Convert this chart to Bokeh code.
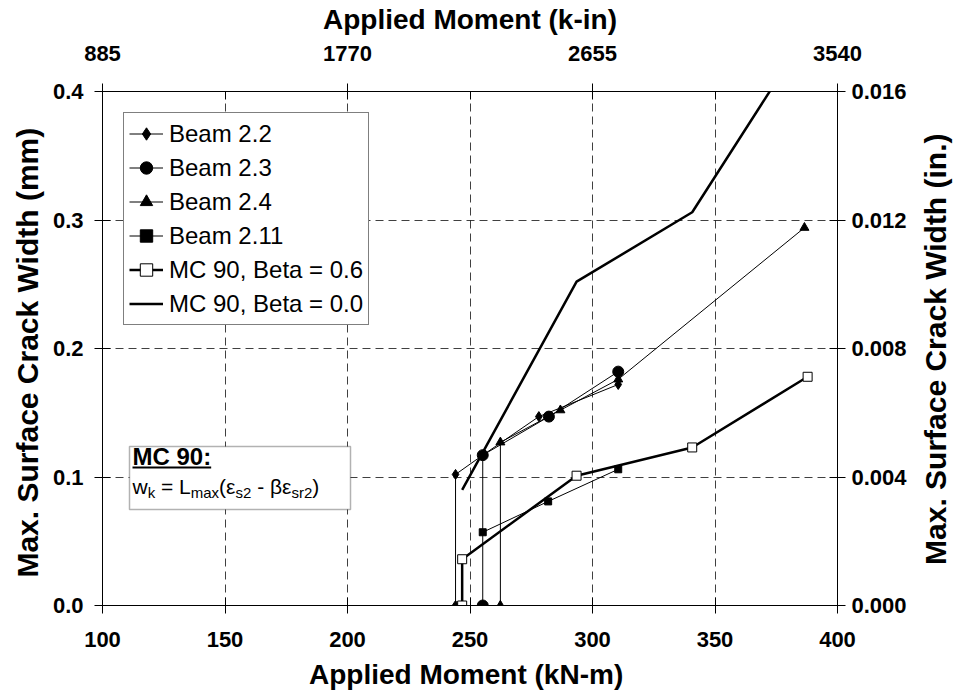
import math
from bokeh.plotting import figure
from bokeh.layouts import row
from bokeh.models import (LinearAxis, Range1d, FixedTicker, Legend, LegendItem,
                          BoxAnnotation, Label, PrintfTickFormatter)
from bokeh.embed import file_html
from bokeh.resources import INLINE

# ---------------- data (kN-m, mm) ----------------
beam22_x = [244.1, 244.1, 255.2, 278.1, 310.5]
beam22_y = [0.0, 0.102, 0.117, 0.147, 0.172]
beam23_x = [255.2, 255.2, 282.2, 310.5]
beam23_y = [0.0, 0.117, 0.147, 0.182]
beam24_x = [262.4, 262.4, 286.9, 310.5, 386.5]
beam24_y = [0.0, 0.127, 0.152, 0.176, 0.294]
beam211_x = [255.2, 281.9, 310.5]
beam211_y = [0.057, 0.081, 0.106]
mc06_x = [246.8, 246.8, 293.5, 340.7, 387.8]
mc06_y = [0.0, 0.036, 0.101, 0.123, 0.178]
mc00_x = [246.8, 293.5, 340.7, 387.8]
mc00_y = [0.090, 0.252, 0.306, 0.446]

x_ticks = [100, 150, 200, 250, 300, 350, 400]
y_ticks = [0.0, 0.1, 0.2, 0.3, 0.4]
top_ticks = [885, 1770, 2655, 3540]
top_minor = [1327.5, 2212.5, 3097.5]
right_ticks = [0.0, 0.004, 0.008, 0.012, 0.016]

FONT = "Liberation Sans"
FW, FH = 735, 514
BL, BR, BT, BB = 102, 80, 91, 89
X0, X1, Y0, Y1 = 100, 400, 0.0, 0.4

def dx(px):
    return X0 + px * (X1 - X0) / FW

def dy(px):
    return Y0 + px * (Y1 - Y0) / FH

p = figure(frame_width=FW, frame_height=FH, x_range=Range1d(X0, X1), y_range=Range1d(Y0, Y1),
           output_backend="svg", toolbar_location=None,
           min_border_left=BL, min_border_right=BR, min_border_top=BT, min_border_bottom=BB)
p.outline_line_color = "black"
p.outline_line_width = 1
p.background_fill_color = "white"
p.border_fill_color = "white"

p.extra_x_ranges = {"kin": Range1d(885, 3540)}
p.extra_y_ranges = {"inch": Range1d(0, 0.016)}

def style_axis(ax, title, tsize, standoff, lstandoff):
    ax.axis_label = title
    ax.axis_label_text_font = FONT
    ax.axis_label_text_font_style = "bold"
    ax.axis_label_text_font_size = tsize
    ax.axis_label_text_color = "black"
    ax.major_label_text_font = FONT
    ax.major_label_text_font_style = "bold"
    ax.major_label_text_font_size = "22px"
    ax.major_label_text_color = "black"
    ax.axis_line_color = "black"
    ax.major_tick_line_color = "black"
    ax.minor_tick_line_color = "black"
    ax.major_tick_in = 8
    ax.major_tick_out = 8
    ax.minor_tick_in = 0
    ax.minor_tick_out = 0
    ax.major_label_standoff = standoff
    ax.axis_label_standoff = lstandoff

xb = p.xaxis[0]
xb.ticker = FixedTicker(ticks=x_ticks)
style_axis(xb, "Applied Moment  (kN-m)", "28px", 18, 9)
yl = p.yaxis[0]
yl.ticker = FixedTicker(ticks=y_ticks)
yl.formatter = PrintfTickFormatter(format="%.1f")
style_axis(yl, "Max. Surface Crack Width  (mm)", "30px", 11, 6)

xt = LinearAxis(x_range_name="kin", ticker=FixedTicker(ticks=top_ticks, minor_ticks=top_minor),
                formatter=PrintfTickFormatter(format="%d"))
style_axis(xt, "Applied Moment (k-in)", "28px", 23, 8)
xt.minor_tick_in = 8
p.add_layout(xt, "above")

yr = LinearAxis(y_range_name="inch", ticker=FixedTicker(ticks=right_ticks),
                formatter=PrintfTickFormatter(format="%.3f"))
style_axis(yr, None, "30px", 6, 0)
p.add_layout(yr, "right")

p.xgrid.ticker = FixedTicker(ticks=x_ticks[1:-1])
p.ygrid.ticker = FixedTicker(ticks=y_ticks[1:-1])
for g in (p.xgrid[0], p.ygrid[0]):
    g.grid_line_color = "black"
    g.grid_line_alpha = 0.75
    g.grid_line_dash = "8 5"
    g.grid_line_width = 1

# ---------------- series ----------------
r22l = p.line(beam22_x, beam22_y, line_color="black", line_width=1)
r22m = p.scatter(beam22_x, beam22_y, marker="diamond", size=10, fill_color="black", line_color="black")
r23l = p.line(beam23_x, beam23_y, line_color="black", line_width=1)
r23m = p.scatter(beam23_x, beam23_y, marker="circle", size=11, fill_color="black", line_color="black")
r24l = p.line(beam24_x, beam24_y, line_color="black", line_width=1)
r24m = p.scatter(beam24_x, beam24_y, marker="triangle", size=9, fill_color="black", line_color="black")
r211l = p.line(beam211_x, beam211_y, line_color="black", line_width=1)
r211m = p.scatter(beam211_x, beam211_y, marker="square", size=7, fill_color="black", line_color="black")
r06l = p.line(mc06_x, mc06_y, line_color="black", line_width=2.5)
r06m = p.scatter(mc06_x, mc06_y, marker="square", size=9, fill_color="white", line_color="black", line_width=1)
r00l = p.line(mc00_x, mc00_y, line_color="black", line_width=2.5)

legend = Legend(items=[
    LegendItem(label="Beam 2.2", renderers=[r22l, r22m]),
    LegendItem(label="Beam 2.3", renderers=[r23l, r23m]),
    LegendItem(label="Beam 2.4", renderers=[r24l, r24m]),
    LegendItem(label="Beam 2.11", renderers=[r211l, r211m]),
    LegendItem(label="MC 90, Beta = 0.6", renderers=[r06l, r06m]),
    LegendItem(label="MC 90, Beta = 0.0", renderers=[r00l]),
], location="top_left")
legend.margin = 21
legend.padding = 5
legend.spacing = 3
legend.label_height = 31
legend.glyph_height = 31
legend.glyph_width = 34
legend.label_standoff = 6
legend.label_text_font = FONT
legend.label_text_font_size = "24px"
legend.label_text_color = "black"
legend.border_line_color = "black"
legend.border_line_width = 1
legend.background_fill_color = "white"
legend.background_fill_alpha = 1.0
p.add_layout(legend)

# ---------------- MC 90 formula box ----------------
box = BoxAnnotation(left=dx(27), right=dx(248), bottom=dy(96), top=dy(159),
                    fill_color="white", fill_alpha=1.0, line_color="black", line_width=1.5)
p.add_layout(box)

AR = {"w": 722, "k": 500, " ": 278, "=": 584, "L": 556, "m": 833, "a": 556, "x": 500,
      "(": 333, ")": 333, "s": 500, "2": 556, "-": 333, "r": 333, "\u03b5": 446, "\u03b2": 576}
ARB = {"M": 833, "C": 722, " ": 278, "9": 556, "0": 556, ":": 333}

def width(txt, size, table):
    return sum(table.get(c, 556) for c in txt) * size / 1000.0

TSIZE, MAIN, SUB = 24, 21, 15
title_txt = "MC 90:"
p.add_layout(Label(x=X0, y=Y0, x_offset=30, y_offset=149, text=title_txt, text_font=FONT,
                   text_font_style="bold", text_font_size=f"{TSIZE}px", text_baseline="middle",
                   text_color="black"))
tw = width(title_txt, TSIZE, ARB)
p.add_layout(BoxAnnotation(left=dx(30), right=dx(30 + tw), bottom=dy(137), top=dy(139),
                           fill_color="black", fill_alpha=1.0, line_alpha=0))

pieces = [("w", False), ("k", True), (" = L", False), ("max", True), ("(\u03b5", False),
          ("s2", True), (" - \u03b2\u03b5", False), ("sr2", True), (")", False)]
xo = 30
for txt, sub in pieces:
    size = SUB if sub else MAIN
    lead = len(txt) - len(txt.lstrip(" "))
    shown = txt.lstrip(" ")
    p.add_layout(Label(x=X0, y=Y0, x_offset=xo + width(" " * lead, size, AR),
                       y_offset=(113.5 if sub else 119.5), text=shown,
                       text_font=FONT, text_font_size=f"{size}px", text_baseline="middle",
                       text_color="black"))
    xo += width(txt, size, AR)

# ---------------- right-hand axis title (reads bottom-to-top) ----------------
TOTAL_H = BT + FH + BB
side = figure(width=36, height=TOTAL_H, x_range=Range1d(0, 1), y_range=Range1d(0, TOTAL_H),
              output_backend="svg", toolbar_location=None,
              min_border_left=0, min_border_right=0, min_border_top=0, min_border_bottom=0,
              x_axis_location=None, y_axis_location=None)
side.outline_line_color = None
side.xgrid.visible = False
side.ygrid.visible = False
side.add_layout(Label(x=0.5, y=BB + FH / 2, text="Max. Surface Crack Width (in.)",
                      angle=math.pi / 2, text_align="center", text_baseline="middle",
                      text_font=FONT, text_font_style="bold", text_font_size="30px",
                      text_color="black"))

layout = row(p, side, spacing=0)
open("out.html", "w").write(file_html(layout, INLINE))
